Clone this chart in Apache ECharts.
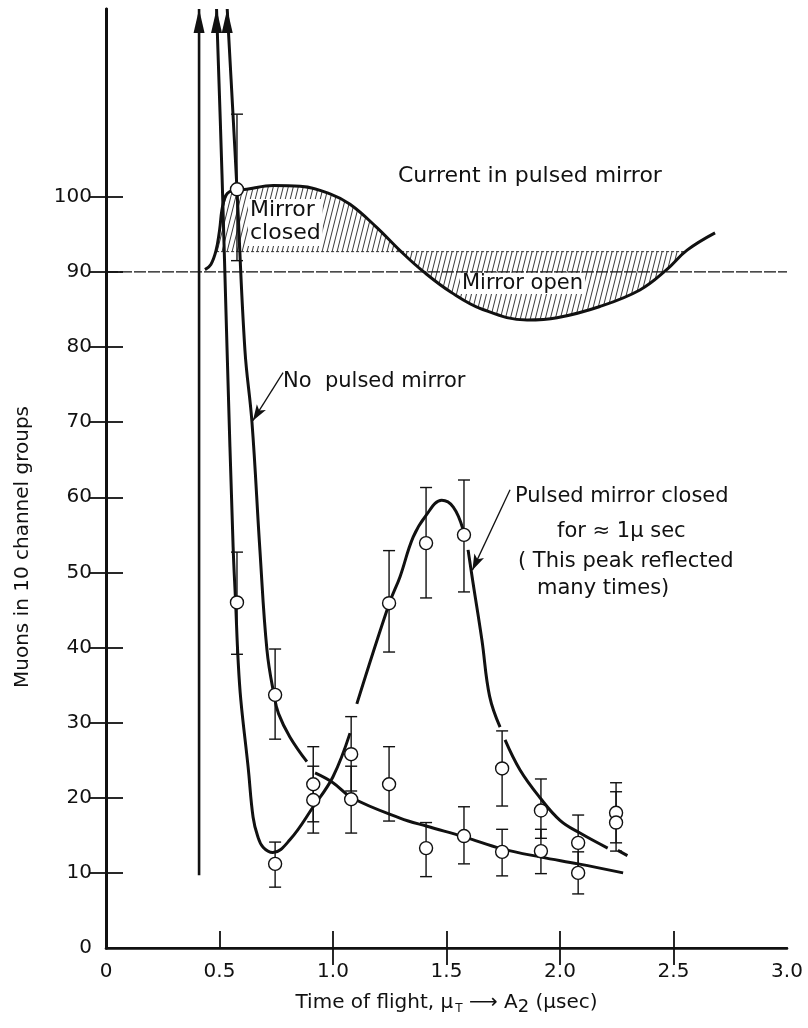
<!DOCTYPE html>
<html>
<head>
<meta charset="utf-8">
<title>Muon time of flight with pulsed mirror</title>
<script src="https://cdn.jsdelivr.net/npm/echarts@6/dist/echarts.min.js"></script>
<style>
  html, body { margin: 0; padding: 0; background: #fff; }
  #chart { width: 808px; height: 1028px; }
</style>
</head>
<body>
<div id="chart"></div>
<script>
// Axis ticks and labels
const xTickValues = [0, 0.5, 1.0, 1.5, 2.0, 2.5, 3.0];
const xTickLabels = ['0', '0.5', '1.0', '1.5', '2.0', '2.5', '3.0'];
const yTickValues = [0, 10, 20, 30, 40, 50, 60, 70, 80, 90, 100];
const yTickLabels = ['0', '10', '20', '30', '40', '50', '60', '70', '80', '90', '100'];

// Measured counts: [time (µsec), muons, lower error, upper error]
const measuredPoints = [
  [0.577, 101, 91.5, 111],
  [0.577, 46, 39.1, 52.7],
  [0.745, 33.7, 27.8, 39.8],
  [0.745, 11.2, 8.1, 14.1],
  [0.913, 21.8, 16.8, 26.8],
  [0.913, 19.7, 15.3, 24.2],
  [1.080, 25.8, 20.9, 30.8],
  [1.080, 19.8, 15.3, 24.2],
  [1.247, 21.8, 16.9, 26.8],
  [1.247, 45.9, 39.4, 52.9],
  [1.410, 53.9, 46.6, 61.3],
  [1.410, 13.3, 9.5, 16.7],
  [1.577, 55.0, 47.4, 62.3],
  [1.577, 14.9, 11.2, 18.8],
  [1.745, 23.9, 18.9, 28.9],
  [1.745, 12.8, 9.6, 15.8],
  [1.916, 18.3, 14.6, 22.5],
  [1.916, 12.9, 9.9, 15.8],
  [2.080, 14.0, 10.3, 17.7],
  [2.080, 10.0, 7.2, 12.8],
  [2.247, 18.0, 14.0, 22.0],
  [2.247, 16.7, 12.9, 20.8]
];

// Fitted curve without the pulsed mirror ('-' marks a break in the pen line)
const noMirrorCurve = [
  [0.534, 125], [0.559, 111.2], [0.577, 101], [0.612, 79.6], [0.643, 70],
  [0.678, 53], [0.709, 39.7], [0.740, 33.7], [0.760, 31.2], [0.810, 28.1],
  [0.885, 24.8], [0.903, '-'],
  [0.921, 23.3], [1.0, 22], [1.083, 20], [1.295, 17.3], [1.414, 16.2],
  [1.577, 14.8], [1.745, 13.2], [1.916, 12.1], [2.080, 11.2], [2.278, 10]
];

// Fitted curve with the mirror closed for about 1 µsec
const pulsedCurve = [
  [0.487, 125], [0.511, 103], [0.533, 80], [0.560, 53.4], [0.571, 46],
  [0.582, 38.3], [0.594, 33], [0.626, 24.1], [0.648, 17.4], [0.668, 14.9],
  [0.692, 13.4], [0.735, 12.7], [0.810, 14.4], [0.913, 18.8], [1.0, 22.8],
  [1.075, 28.6], [1.09, '-'],
  [1.105, 32.5], [1.247, 45.8], [1.295, 49.4], [1.353, 54.7], [1.410, 57.6],
  [1.479, 59.6], [1.530, 58.7], [1.573, 55.7], [1.584, '-'],
  [1.595, 53], [1.617, 48.6], [1.656, 41], [1.690, 33.5], [1.736, 29.4],
  [1.747, '-'],
  [1.758, 27.7], [1.824, 23.7], [1.912, 20], [2.0, 17], [2.088, 15.3],
  [2.210, 13.3], [2.232, '-'], [2.255, 13.0], [2.297, 12.3]
];

// Prompt spike at the start of the window
const promptSpike = [[0.41, 9.7], [0.41, 125]];

// Current in the pulsed mirror (same vertical scale, offset baseline)
const mirrorCurrent = [
  [0.436, 90.3], [0.462, 91], [0.485, 92.9], [0.500, 95.5],
  [0.517, 99.2], [0.545, 100.7], [0.620, 101],
  [0.737, 101.5], [0.855, 101.4], [0.987, 100.4], [1.075, 99.0], [1.190, 96],
  [1.300, 92.7], [1.400, 90], [1.520, 87.3], [1.660, 85],
  [1.855, 83.6], [1.987, 83.9], [2.176, 85.4], [2.352, 87.6], [2.470, 90.3],
  [2.560, 92.9], [2.683, 95.2]
];
const currentBaseline = 90;
const switchLevel = 92.7;
const switchSpan = [0.485, 2.553];

// Annotation leader arrows: [from, to]
const noMirrorPointer = [[0.78, 76.6], [0.647, 70.2]];
const pulsedPointer = [[1.78, 61], [1.614, 50.3]];

const INK = '#111';
const FONT = '"DejaVu Sans", "Liberation Sans", sans-serif';

function hatchPattern() {
  const w = 5, h = 20;
  const c = document.createElement('canvas');
  c.width = w; c.height = h;
  const g = c.getContext('2d');
  g.strokeStyle = '#222';
  g.lineWidth = 0.9;
  for (const dx of [-w, 0, w]) {
    g.beginPath();
    g.moveTo(dx, h);
    g.lineTo(dx + w, 0);
    g.stroke();
  }
  return c;
}

// Points of the current curve inside the switching window, closed on the switch level
const hatchedCurrent = [[switchSpan[0], switchLevel]]
  .concat(mirrorCurrent.filter(p => p[0] > switchSpan[0] && p[0] < switchSpan[1]))
  .concat([[switchSpan[1], switchLevel]]);

function labelFor(values, labels) {
  return v => {
    const i = values.findIndex(t => Math.abs(t - v) < 1e-6);
    return i >= 0 ? labels[i] : '';
  };
}

function arrowLine(points, extra) {
  return Object.assign({
    type: 'line',
    data: points.map((p, i) => i === points.length - 1
      ? { value: p, symbol: 'triangle', symbolSize: [11, 24], symbolOffset: [0, 12] }
      : { value: p, symbol: 'none' }),
    showSymbol: true,
    showAllSymbol: true,
    clip: false,
    itemStyle: { color: INK },
    lineStyle: { color: INK, width: 3 },
    z: 3
  }, extra || {});
}

const chart = echarts.init(document.getElementById('chart'), null, { renderer: 'canvas' });

const axisLineStyle = (w) => ({ show: true, lineStyle: { color: INK, width: w } });
const SMOOTH = 0.4;

chart.setOption({
  animation: false,
  backgroundColor: '#fff',
  grid: { left: 106, right: 21, top: 9, bottom: 80, containLabel: false },
  xAxis: [
    {
      type: 'value', min: 0, max: 3, position: 'bottom',
      axisLine: axisLineStyle(2.6),
      axisTick: { show: true, inside: true, length: 17, customValues: xTickValues.slice(1, -1), lineStyle: { color: INK, width: 1.8 } },
      axisLabel: { customValues: xTickValues, formatter: labelFor(xTickValues, xTickLabels), color: INK, fontFamily: FONT, fontSize: 20, margin: 14 },
      splitLine: { show: false },
      name: '{t|Time of flight, μ}{s|T}{t| ⟶ A}{s2|2}{t| (μsec)}',
      nameLocation: 'middle', nameGap: 42,
      nameTextStyle: {
        rich: {
          t: { fontFamily: FONT, fontSize: 20, color: INK },
          s: { fontFamily: FONT, fontSize: 12, color: INK, padding: [12, 0, 0, 2] },
          s2: { fontFamily: FONT, fontSize: 18, color: INK, padding: [8, 0, 0, 0] }
        }
      }
    },
    {
      type: 'value', min: 0, max: 3, position: 'top',
      axisLine: axisLineStyle(2),
      axisTick: { show: true, inside: true, length: 17, customValues: [1.0, 1.5, 2.0, 2.5], lineStyle: { color: INK, width: 1.8 } },
      axisLabel: { show: false },
      splitLine: { show: false }
    }
  ],
  yAxis: [
    {
      type: 'value', min: 0, max: 125, position: 'left',
      axisLine: axisLineStyle(3),
      axisTick: { show: true, inside: true, length: 17, customValues: yTickValues.slice(1), lineStyle: { color: INK, width: 1.8 } },
      axisLabel: { customValues: yTickValues, formatter: labelFor(yTickValues, yTickLabels), color: INK, fontFamily: FONT, fontSize: 20, margin: 14 },
      splitLine: { show: false }
    },
    {
      type: 'value', min: 0, max: 125, position: 'right',
      axisLine: axisLineStyle(2.6),
      axisTick: { show: true, inside: true, length: 17, customValues: yTickValues.slice(1), lineStyle: { color: INK, width: 1.8 } },
      axisLabel: { show: false },
      splitLine: { show: false }
    }
  ],
  series: [
    // hatched switching window of the mirror current
    {
      type: 'line', data: hatchedCurrent, smooth: SMOOTH,
      showSymbol: false, lineStyle: { width: 0 },
      areaStyle: { color: { image: hatchPattern(), repeat: 'repeat' }, origin: switchLevel, opacity: 1 },
      z: 1, silent: true
    },
    // current baseline and switch level
    {
      type: 'line', data: [[0, currentBaseline], [3, currentBaseline]], showSymbol: false,
      lineStyle: { color: INK, width: 1.4, type: [12, 2] }, z: 1
    },
    {
      type: 'line', data: [[switchSpan[0], switchLevel], [switchSpan[1], switchLevel]], showSymbol: false,
      lineStyle: { color: '#333', width: 1, type: [3, 2] }, z: 1
    },
    // mirror current
    {
      type: 'line', data: mirrorCurrent, smooth: SMOOTH, showSymbol: false,
      lineStyle: { color: INK, width: 3 }, z: 2
    },
    // prompt spike, and the two curves entering from the top
    arrowLine(promptSpike.slice().sort((a, b) => a[1] - b[1]), { lineStyle: { color: INK, width: 2.6 } }),
    arrowLine(pulsedCurve.slice(0, 1).concat(pulsedCurve.slice(0, 1)), {}),
    arrowLine(noMirrorCurve.slice(0, 1).concat(noMirrorCurve.slice(0, 1)), {}),
    {
      type: 'line', data: noMirrorCurve, smooth: SMOOTH, showSymbol: false,
      connectNulls: false, lineStyle: { color: INK, width: 3 }, z: 3,
      markLine: {
        silent: true, symbol: ['none', 'arrow'], symbolSize: [8, 16],
        lineStyle: { color: INK, width: 1.3, type: 'solid' }, label: { show: false },
        data: [[{ coord: noMirrorPointer[0] }, { coord: noMirrorPointer[1] }]]
      }
    },
    {
      type: 'line', data: pulsedCurve, smooth: SMOOTH, showSymbol: false,
      connectNulls: false, lineStyle: { color: INK, width: 3 }, z: 3,
      markLine: {
        silent: true, symbol: ['none', 'arrow'], symbolSize: [8, 16],
        lineStyle: { color: INK, width: 1.3, type: 'solid' }, label: { show: false },
        data: [[{ coord: pulsedPointer[0] }, { coord: pulsedPointer[1] }]]
      }
    },
    // error bars
    {
      type: 'custom', data: measuredPoints, encode: { x: 0, y: [1, 2, 3] }, z: 4,
      renderItem: (params, api) => {
        const x = api.value(0);
        const top = api.coord([x, api.value(3)]);
        const bot = api.coord([x, api.value(2)]);
        const w = 6;
        const st = { stroke: INK, lineWidth: 1.4 };
        return {
          type: 'group',
          children: [
            { type: 'line', shape: { x1: top[0], y1: top[1], x2: bot[0], y2: bot[1] }, style: st },
            { type: 'line', shape: { x1: top[0] - w, y1: top[1], x2: top[0] + w, y2: top[1] }, style: st },
            { type: 'line', shape: { x1: bot[0] - w, y1: bot[1], x2: bot[0] + w, y2: bot[1] }, style: st }
          ]
        };
      }
    },
    // measured points
    {
      type: 'scatter', data: measuredPoints.map(p => [p[0], p[1]]), symbol: 'circle', symbolSize: 13,
      itemStyle: { color: '#fff', borderColor: INK, borderWidth: 1.4, opacity: 1 }, z: 5
    }
  ],
  graphic: [
    { type: 'text', x: 23, y: 547, rotation: Math.PI / 2,
      style: { text: 'Muons in 10 channel groups', fill: INK, font: '20px ' + FONT, align: 'center', verticalAlign: 'middle' } },
    { type: 'text', left: 398, top: 165, z: 10,
      style: { text: 'Current in pulsed mirror', fill: INK, font: '22px ' + FONT } },
    { type: 'text', left: 248, top: 199, z: 10,
      style: { text: 'Mirror\nclosed', fill: INK, font: '22px ' + FONT, lineHeight: 23, backgroundColor: '#fff', padding: [0, 2, 1, 2] } },
    { type: 'text', left: 460, top: 273, z: 10,
      style: { text: 'Mirror open', fill: INK, font: '21px ' + FONT, backgroundColor: '#fff', padding: [0, 2, 0, 2] } },
    { type: 'text', left: 283, top: 371, z: 10,
      style: { text: 'No  pulsed mirror', fill: INK, font: '21px ' + FONT } },
    { type: 'text', left: 515, top: 486, z: 10,
      style: { text: 'Pulsed mirror closed', fill: INK, font: '21px ' + FONT } },
    { type: 'text', left: 557, top: 521, z: 10,
      style: { text: 'for ≈ 1μ sec', fill: INK, font: '21px ' + FONT } },
    { type: 'text', left: 518, top: 551, z: 10,
      style: { text: '( This peak reflected', fill: INK, font: '21px ' + FONT } },
    { type: 'text', left: 537, top: 578, z: 10,
      style: { text: 'many times)', fill: INK, font: '21px ' + FONT } }
  ]
});
</script>
</body>
</html>
